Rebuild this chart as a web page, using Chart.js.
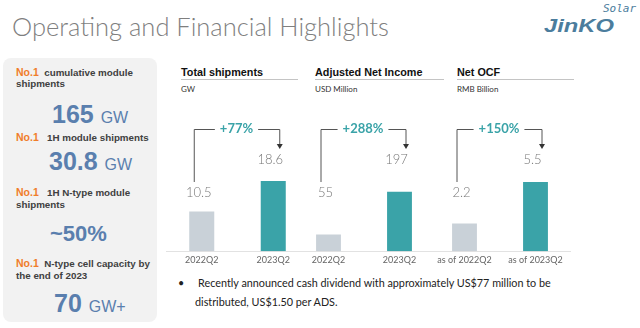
<!DOCTYPE html>
<html>
<head>
<meta charset="utf-8">
<script src="https://cdn.jsdelivr.net/npm/chart.js@4.4.0/dist/chart.umd.min.js"></script>
<style>
  body { margin: 0; width: 640px; height: 328px; background: #fff; position: relative; overflow: hidden; font-family: "Liberation Sans", Arial, sans-serif; }
  .abs { position: absolute; white-space: nowrap; }
  #title { left: 12px; top: 8px; font-family: Lato, sans-serif; font-weight: 300; font-size: 25.5px; line-height: 36px; color: #7f7f7f; }
  #logo { left: 544px; top: 15px; font-size: 19px; font-weight: bold; font-style: italic; color: #4b7d9d; transform: scaleX(1.25); transform-origin: left top; }
  #solar { left: 603px; top: 2px; font-size: 11px; font-style: italic; color: #4b7d9d; font-family: "DejaVu Sans Mono", monospace; }
  #panel { left: 3px; top: 58px; width: 154px; height: 264px; background: #f2f2f2; border-radius: 8px; }
  .desc { font-size: 9.8px; font-weight: bold; color: #404040; line-height: 12px; }
  .no1 { font-size: 10.5px; color: #f07d2a; }
  .big { font-size: 25px; font-weight: bold; color: #5a7fae; line-height: 25px; }
  .unit { font-size: 16px; font-weight: normal; }
  .head { font-size: 10.8px; font-weight: bold; color: #111; line-height: 14px; }
  .rule { height: 1px; background: #c4c4c4; }
  .sub { font-family: Lato, sans-serif; font-size: 8px; color: #333; line-height: 10px; }
  #note { left: 178px; top: 273px; font-family: Lato, sans-serif; font-size: 10.8px; color: #222; line-height: 19px; }
  canvas { position: absolute; }
</style>
</head>
<body>
<div id="title" class="abs">Operating and Financial Highlights</div>
<div id="solar" class="abs">Solar</div>
<div id="logo" class="abs">JinKO</div>

<div id="panel" class="abs"></div>
<div class="abs desc" style="left:16px;top:66px"><span class="no1">No.1</span>&nbsp; cumulative module</div>
<div class="abs desc" style="left:16px;top:78px">shipments</div>
<div class="abs big" style="left:52px;top:102px">165 <span class="unit">GW</span></div>
<div class="abs desc" style="left:16px;top:131px"><span class="no1">No.1</span>&nbsp;&nbsp; 1H module shipments</div>
<div class="abs big" style="left:49px;top:149px">30.8 <span class="unit">GW</span></div>
<div class="abs desc" style="left:16px;top:186px"><span class="no1">No.1</span>&nbsp;&nbsp; 1H N-type module</div>
<div class="abs desc" style="left:16px;top:199px">shipments</div>
<div class="abs big" style="left:50px;top:223px;font-size:22px;line-height:22px">~50%</div>
<div class="abs desc" style="left:16px;top:257px"><span class="no1">No.1</span>&nbsp; N-type cell capacity by</div>
<div class="abs desc" style="left:16px;top:270px">the end of 2023</div>
<div class="abs big" style="left:54px;top:291px">70 <span class="unit">GW+</span></div>

<div class="abs head" style="left:181px;top:65px">Total shipments</div>
<div class="abs rule" style="left:181px;top:79px;width:117px"></div>
<div class="abs sub" style="left:181px;top:84px">GW</div>
<div class="abs head" style="left:315px;top:65px">Adjusted Net Income</div>
<div class="abs rule" style="left:315px;top:79px;width:129px"></div>
<div class="abs sub" style="left:315px;top:84px">USD Million</div>
<div class="abs head" style="left:457px;top:65px">Net OCF</div>
<div class="abs rule" style="left:457px;top:79px;width:117px"></div>
<div class="abs sub" style="left:457px;top:84px">RMB Billion</div>

<canvas id="c1" width="143" height="168" style="left:166px;top:100px"></canvas>
<canvas id="c2" width="142" height="168" style="left:293px;top:100px"></canvas>
<canvas id="c3" width="142" height="168" style="left:429px;top:100px"></canvas>

<div id="note" class="abs">&bull;&nbsp;&nbsp;&nbsp;&nbsp; Recently announced cash dividend with approximately US$77 million to be<br><span style="padding-left:17px">distributed, US$1.50 per ADS.</span></div>

<script>
// values per panel
const shipmentPeriods = ['2022Q2', '2023Q2'];
const shipmentValues = [10.5, 18.6];
const incomePeriods = ['2022Q2', '2023Q2'];
const incomeValues = [55, 197];
const ocfPeriods = ['as of 2022Q2', 'as of 2023Q2'];
const ocfValues = [2.2, 5.5];
const growthLabels = ['+77%', '+288%', '+150%'];
const axisMax = [40, 500, 12];

const grey = '#c9d1d8';
const teal = '#3aa3a8';

// bracket with growth % plus the value labels over each pair of bars
const bracketPlugin = {
  id: 'bracket',
  afterDatasetsDraw(chart, args, opts) {
    const ctx = chart.ctx;
    const top = chart.chartArea.top;
    const bars = chart.getDatasetMeta(0).data;
    const vals = chart.data.datasets[0].data;
    const xl = bars[0].x - 8, xr = bars[1].x + 6, yl = top + 29;

    ctx.save();
    ctx.font = 'bold 13px Lato';
    const w = ctx.measureText(opts.label).width;
    const mid = (xl + xr) / 2;
    ctx.strokeStyle = '#555';
    ctx.lineWidth = 1;
    ctx.beginPath();
    ctx.moveTo(xl + 0.5, top + 82);
    ctx.lineTo(xl + 0.5, yl + 0.5);
    ctx.lineTo(mid - w / 2 - 5, yl + 0.5);
    ctx.moveTo(mid + w / 2 + 5, yl + 0.5);
    ctx.lineTo(xr + 0.5, yl + 0.5);
    ctx.lineTo(xr + 0.5, top + 44);
    ctx.stroke();
    ctx.fillStyle = '#333';
    ctx.beginPath();
    ctx.moveTo(xr - 2.5, top + 44);
    ctx.lineTo(xr + 3.5, top + 44);
    ctx.lineTo(xr + 0.5, top + 49);
    ctx.closePath();
    ctx.fill();

    ctx.fillStyle = teal;
    ctx.textAlign = 'center';
    ctx.textBaseline = 'middle';
    ctx.fillText(opts.label, mid, yl);

    ctx.font = '300 13px Lato';
    ctx.fillStyle = '#777';
    ctx.fillText(String(vals[0]), bars[0].x - 3, top + 92.5);
    ctx.fillText(String(vals[1]), bars[1].x - 3, top + 59.5);
    ctx.restore();
  }
};

function makeChart(id, labels, values, max, growth) {
  const ctx = document.getElementById(id).getContext('2d');
  return new Chart(ctx, {
    type: 'bar',
    data: {
      labels: labels,
      datasets: [{
        data: values,
        backgroundColor: [grey, teal],
        categoryPercentage: 1,
        barPercentage: 0.35
      }]
    },
    options: {
      responsive: false,
      animation: false,
      devicePixelRatio: 1,
      layout: { padding: 0 },
      plugins: {
        legend: { display: false },
        tooltip: { enabled: false },
        bracket: { label: growth }
      },
      scales: {
        x: {
          grid: { display: false, drawTicks: false },
          border: { color: '#e2e2e2' },
          ticks: { color: '#666', font: { family: 'Lato', size: 9 }, padding: 3, maxRotation: 0 }
        },
        y: { display: false, min: 0, max: max }
      }
    },
    plugins: [bracketPlugin]
  });
}

makeChart('c1', shipmentPeriods, shipmentValues, axisMax[0], growthLabels[0]);
makeChart('c2', incomePeriods, incomeValues, axisMax[1], growthLabels[1]);
makeChart('c3', ocfPeriods, ocfValues, axisMax[2], growthLabels[2]);
</script>
</body>
</html>
